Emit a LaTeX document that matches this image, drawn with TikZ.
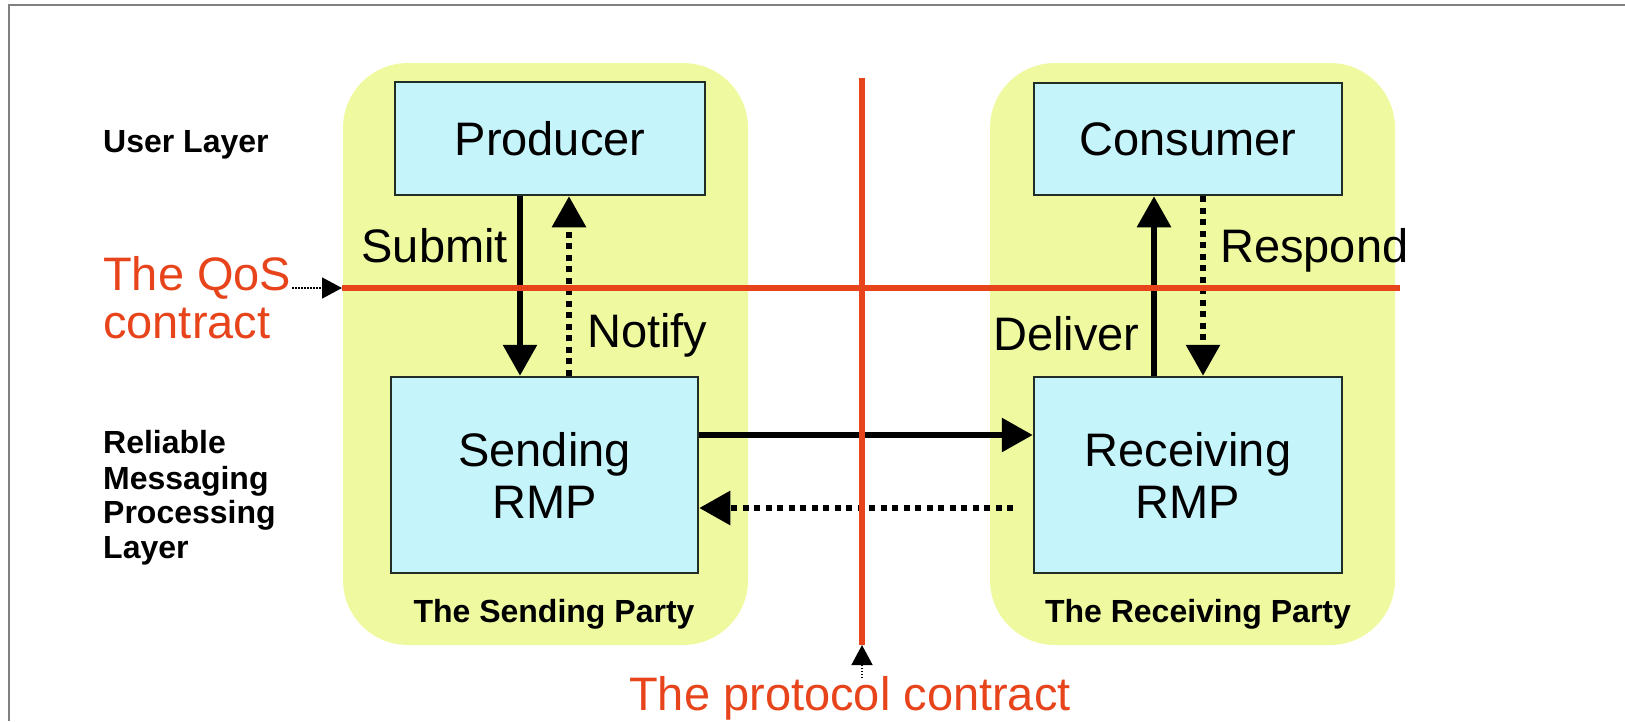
\documentclass[tikz,border=0pt]{standalone}
\usepackage{fontspec}
\setmainfont{Liberation Sans}
\usetikzlibrary{arrows.meta}
\definecolor{partyyellow}{RGB}{239,250,160}
\definecolor{boxcyan}{RGB}{198,244,251}
\definecolor{contractred}{RGB}{232,68,28}
\definecolor{framegray}{RGB}{128,128,128}
\definecolor{boxedge}{RGB}{35,45,40}
\begin{document}
\begin{tikzpicture}[x=1pt,y=-1pt,
  party/.style={fill=partyyellow, draw=none, rounded corners=65pt, minimum width=405pt, minimum height=582pt, inner sep=0pt},
  compbox/.style={fill=boxcyan, draw=boxedge, line width=2.5pt, inner sep=0pt, align=center, font=\fontsize{47}{52}\selectfont},
  flow/.style={line width=6pt, -{Triangle[length=31pt,width=33pt]}},
  dotflow/.style={line width=6pt, dash pattern=on 6pt off 5.5pt, -{Triangle[length=31pt,width=33pt]}},
  contract/.style={draw=contractred, line width=6.5pt},
  pointer/.style={line width=1.5pt, dash pattern=on 1.5pt off 1.5pt, -{Triangle[length=20pt,width=21pt]}},
  lbl/.style={inner sep=0pt, font=\fontsize{47}{52}\selectfont},
  redlbl/.style={inner sep=0pt, text=contractred, font=\fontsize{47}{52}\selectfont},
  layerlbl/.style={inner sep=0pt, font=\fontsize{32}{35}\selectfont\bfseries},
]
\useasboundingbox (0,0) rectangle (1625,721);
% frame
\draw[framegray, line width=2pt] (1625,5) -- (9,5) -- (9,721);
% parties
\node[party] (lp) at (545.5,354) {};
\node[party] (rp) at (1192.5,354) {};
% components
\node[compbox, minimum width=310pt, minimum height=113pt] (prod) at (550,138.5) {Producer};
\node[compbox, minimum width=308pt, minimum height=112pt] (cons) at (1188,139) {Consumer};
\node[compbox, minimum width=307pt, minimum height=196pt] (send) at (544.5,475) {Sending\\RMP};
\node[compbox, minimum width=308pt, minimum height=196pt] (recv) at (1188,475) {Receiving\\RMP};
% arrow positions
\coordinate (sx) at (520,0);
\coordinate (nx) at (569,0);
\coordinate (dx) at (1154,0);
\coordinate (rx) at (1203,0);
\coordinate (hy1) at (0,435);
\coordinate (hy2) at (0,508);
\coordinate (dstart) at (1013,508);
\draw[flow] (prod.south -| sx) -- (send.north -| sx);
\draw[dotflow] (send.north -| nx) -- (prod.south -| nx);
\draw[flow] (recv.north -| dx) -- (cons.south -| dx);
\draw[dotflow] (cons.south -| rx) -- (recv.north -| rx);
\draw[flow] (send.east |- hy1) -- (recv.west |- hy1);
\draw[dotflow] (dstart) -- (send.east |- hy2);
% contracts
\coordinate (qosL) at (342,288);
\coordinate (qosR) at (1400,288);
\coordinate (protoT) at (862,78);
\coordinate (protoB) at (862,645);
\draw[contract] (qosL) -- (qosR);
\draw[contract] (protoT) -- (protoB);
\coordinate (qosfrom) at (292,288);
\coordinate (protofrom) at (862,678);
\draw[pointer] (qosfrom) -- (qosL);
\draw[pointer] (protofrom) -- (protoB);
% labels
\node[lbl, anchor=base east] (submitlbl) at (508,262) {Submit};
\node[lbl, anchor=base west] (notifylbl) at (587,347) {Notify};
\node[lbl, anchor=base west] (deliverlbl) at (993,350) {Deliver};
\node[lbl, anchor=base west] (respondlbl) at (1220,262) {Respond};
\node[redlbl, anchor=base west] (qos1) at (103,290) {The QoS};
\node[redlbl, anchor=base west] (qos2) at (103,338) {contract};
\node[redlbl, anchor=base] (proto) at (850,710) {The protocol contract};
\node[layerlbl, anchor=base west] (user) at (103,152) {User Layer};
\node[layerlbl, anchor=base west] (rm1) at (103,453) {Reliable};
\node[layerlbl, anchor=base west] (rm2) at (103,489) {Messaging};
\node[layerlbl, anchor=base west] (rm3) at (103,523) {Processing};
\node[layerlbl, anchor=base west] (rm4) at (103,558) {Layer};
\node[layerlbl, anchor=base] (sp) at (554,622) {The Sending Party};
\node[layerlbl, anchor=base] (rpl) at (1198,622) {The Receiving Party};
\end{tikzpicture}
\end{document}
